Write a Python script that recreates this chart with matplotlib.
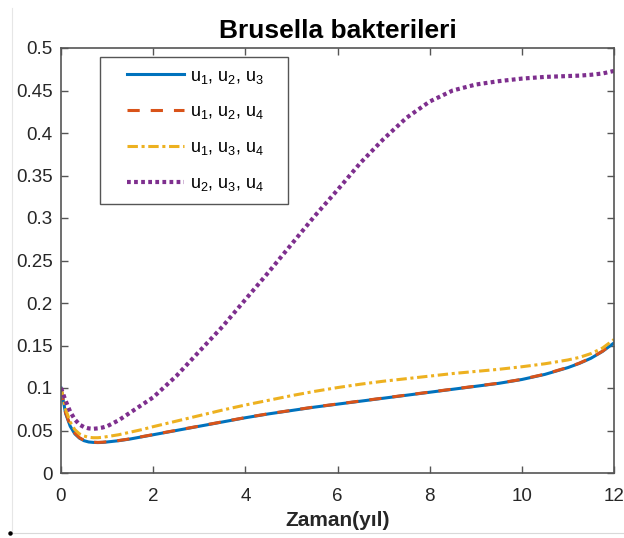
import matplotlib.pyplot as plt
from matplotlib.lines import Line2D
from matplotlib.legend_handler import HandlerLine2D

plt.rcParams['font.family'] = ['Liberation Sans', 'DejaVu Sans']
plt.rcParams['mathtext.default'] = 'regular'

# time grid (years)
t = [0, 0.1, 0.2, 0.3, 0.4, 0.5, 0.6, 0.7, 0.8, 0.9, 1.0, 1.25, 1.5, 1.75, 2.0,
     2.5, 3.0, 3.5, 4.0, 4.5, 5.0, 5.5, 6.0, 6.5, 7.0, 7.5, 8.0, 8.5, 9.0, 9.5,
     10.0, 10.5, 11.0, 11.25, 11.5, 11.75, 12.0]

u123 = [0.100, 0.070, 0.055, 0.046, 0.041, 0.038, 0.0365, 0.036, 0.0358, 0.0360, 0.0365,
        0.038, 0.040, 0.0425, 0.045, 0.050, 0.055, 0.060, 0.065, 0.0695, 0.0735, 0.0775,
        0.081, 0.0845, 0.088, 0.0915, 0.095, 0.0985, 0.102, 0.1055, 0.110, 0.116, 0.124,
        0.129, 0.135, 0.143, 0.153]
u124 = [0.100, 0.071, 0.056, 0.047, 0.0415, 0.0385, 0.037, 0.0363, 0.036, 0.0362, 0.0367,
        0.0382, 0.0402, 0.0427, 0.0452, 0.0502, 0.0552, 0.0602, 0.0652, 0.0697, 0.0737, 0.0777,
        0.0812, 0.0847, 0.0882, 0.0917, 0.0952, 0.0987, 0.1022, 0.1057, 0.1102, 0.1163, 0.1243,
        0.1293, 0.1353, 0.1433, 0.1535]
u134 = [0.100, 0.075, 0.060, 0.051, 0.046, 0.0435, 0.042, 0.0415, 0.0415, 0.042, 0.0428,
        0.045, 0.048, 0.051, 0.0545, 0.061, 0.0675, 0.074, 0.080, 0.0855, 0.091, 0.096,
        0.1005, 0.1045, 0.108, 0.111, 0.114, 0.117, 0.1195, 0.122, 0.125, 0.1285, 0.133,
        0.136, 0.1405, 0.147, 0.157]
u234 = [0.100, 0.085, 0.072, 0.063, 0.057, 0.054, 0.0525, 0.052, 0.0525, 0.0535, 0.055,
        0.062, 0.071, 0.080, 0.089, 0.114, 0.143, 0.172, 0.204, 0.236, 0.269, 0.302,
        0.333, 0.365, 0.393, 0.418, 0.437, 0.450, 0.457, 0.461, 0.464, 0.466, 0.467,
        0.4675, 0.4685, 0.470, 0.473]

labels = ['u$_1$, u$_2$, u$_3$', 'u$_1$, u$_2$, u$_4$',
          'u$_1$, u$_3$, u$_4$', 'u$_2$, u$_3$, u$_4$']
colors = ['#0072BD', '#D95319', '#EDB120', '#7E2F8E']


class ShiftedLine(HandlerLine2D):
    # legend sample line pushed right inside its box
    shift = 11.5

    def create_artists(self, legend, orig_handle, xdescent, ydescent,
                       width, height, fontsize, trans):
        return super().create_artists(legend, orig_handle, xdescent - self.shift,
                                      ydescent, width - self.shift, height,
                                      fontsize, trans)


fig = plt.figure(figsize=(6.24, 5.38), dpi=100)
ax = fig.add_axes([61 / 624, 1 - 473 / 538, 553 / 624, 425 / 538])

lw = 2.2
ax.plot(t, u123, color=colors[0], lw=lw, label=labels[0])
ax.plot(t, u124, color=colors[1], lw=lw, ls=(0, (4.0, 3.6)), label=labels[1])
ax.plot(t, u134, color=colors[2], lw=lw, ls=(0, (3.4, 1.2, 1.0, 1.2)), label=labels[2])
ax.plot(t, u234, color=colors[3], lw=3.0, ls=(0, (0.9, 0.8)), label=labels[3])

ax.set_xlim(0, 12)
ax.set_ylim(0, 0.5)
ax.set_xticks(range(0, 13, 2))
ax.set_yticks([i * 0.05 for i in range(11)])
ax.set_yticklabels(['0', '0.05', '0.1', '0.15', '0.2', '0.25', '0.3', '0.35',
                    '0.4', '0.45', '0.5'])

axcol = '#262626'
for s in ax.spines.values():
    s.set_color('#555555')
    s.set_linewidth(1.2)
ax.tick_params(direction='in', top=True, right=True, length=5, width=1,
               color='#555555', labelsize=13.5, labelcolor=axcol)
ax.tick_params(axis='y', pad=6)
ax.tick_params(axis='x', pad=11)

ax.set_title('Brusella bakterileri', fontsize=19, fontweight='bold', pad=7)
ax.set_xlabel('Zaman(yıl)', fontsize=15, fontweight='bold', labelpad=4, color=axcol)

leg = ax.legend(loc='upper left', bbox_to_anchor=(0.0705, 0.979, 0.340, 0.0),
                mode='expand', fontsize=13, handlelength=4.04, handletextpad=0.33,
                labelspacing=0.98, borderpad=0.6, borderaxespad=0,
                fancybox=False, edgecolor='#555555', framealpha=1,
                handler_map={Line2D: ShiftedLine()})
leg.get_frame().set_linewidth(1.0)

# faint frame lines at the edge of the figure
fig.add_artist(Line2D([12 / 624, 12 / 624], [5 / 538, 530 / 538], color='#e6e6e6', lw=0.8))
fig.add_artist(Line2D([12 / 624, 1], [5 / 538, 5 / 538], color='#d9d9d9', lw=0.8))
fig.add_artist(Line2D([10 / 624], [5 / 538], marker='o', ms=2.2, color='black'))

fig.savefig('out.png', dpi=100)
